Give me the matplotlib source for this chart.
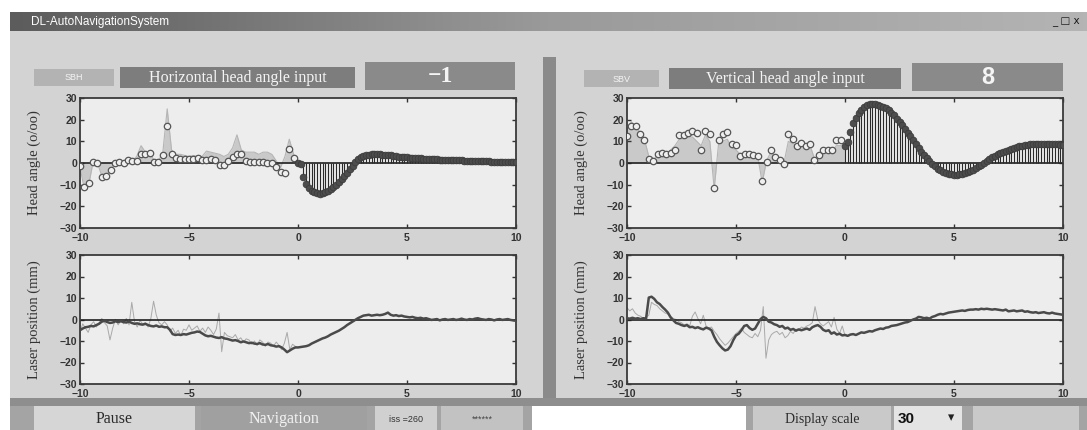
import numpy as np
import matplotlib.pyplot as plt
from matplotlib.patches import Rectangle
from matplotlib.colors import LinearSegmentedColormap

W, H = 1087, 430

# ---- data -------------------------------------------------------------
# sample times (s): open circles every 0.2 before zero, dense samples after
t_open = np.arange(-10, 0, 0.2)
t_dense = np.linspace(0, 10, 81)
t_laser = np.linspace(-10, 10, 161)
t_laser_raw = np.linspace(-10, 0, 81)

# horizontal head angle (o/oo)
h_open = [-1.3, -11, -9.4, 0.3, 0, -6.4, -6, -3, 0, 0.6,
          0, 1.4, 1, 0.8, 4.2, 4, 4.4, 0.3, 0.3, 3.8,
          17, 4.2, 2.3, 2, 2, 2, 2, 2.2, 1.6, 1.6,
          1.7, 1.6, -1, -1, 1.1, 2.7, 4.2, 4, 0.8, 0.3,
          0.3, 0.5, 0.6, 0.2, 0.2, -2, -4, -4.7, 6.6, 2.3]
h_raw = [-2, -12, -10, 0.5, 0, -6, -6, -3, 0, 1,
         1, 2, 1, 3, 8, 5, 5, 1, 1, 5,
         25, 6, 4, 4, 3.5, 3, 3.5, 3, 3, 5.5,
         5, 4.5, 4, 3, 4, 7, 13, 6, 5, 5,
         5, 4, 5, 5, 4, 1, -2, 3, 11, 4]
h_dense = [0.0, -0.5, -6.5, -9.5, -11.5, -12.8, -13.5, -14.0,
           -14.2, -14.0, -13.5, -12.8, -12.0, -11.0, -10.0, -8.8,
           -7.5, -6.0, -4.5, -2.8, -1.2, 0.5, 2.0, 2.9,
           3.4, 3.7, 3.9, 4.0, 4.0, 4.0, 4.0, 3.9,
           3.9, 3.8, 3.6, 3.4, 3.2, 3.0, 2.9, 2.7,
           2.6, 2.5, 2.4, 2.3, 2.2, 2.1, 2.0, 2.0,
           1.9, 1.9, 1.8, 1.7, 1.6, 1.6, 1.5, 1.5,
           1.4, 1.3, 1.3, 1.2, 1.2, 1.1, 1.1, 1.0,
           1.0, 0.9, 0.9, 0.8, 0.8, 0.7, 0.7, 0.6,
           0.6, 0.5, 0.5, 0.5, 0.4, 0.4, 0.4, 0.3,
           0.3]

# vertical head angle (o/oo)
v_open = [12.3, 17.2, 17.2, 13.5, 10.5, 2, 0.8, 4.3, 4.6, 4.2,
          4.6, 6, 12.8, 12.8, 13.8, 15, 14, 6.2, 15, 13.4,
          -11.5, 10.8, 13.4, 14.3, 8.8, 8.5, 3.4, 4.2, 4.2, 3.8,
          3.4, -8.5, 0.3, 5.8, 2.6, 1.5, -0.5, 13.5, 11.2, 7.7,
          9.2, 8, 8.8, 1.5, 3.5, 6.2, 6.2, 6.2, 10.8, 10.8]
v_raw = [15, 19, 17, 14, 11, 3, 1, 4, 5, 4,
         6, 8, 11, 11, 12, 12, 10, 8, 13, 10,
         -12, 9, 10, 11, 7, 6, 4, 4, 4, 3,
         3, -9, 1, 5, 3, 2, 0, 10, 9, 8,
         9, 8, 8, 2, 3, 5, 5, 5, 8, 8]
v_dense = [8.0, 9.5, 14.5, 18.5, 21.0, 23.0, 24.5, 26.0,
           26.8, 27.2, 27.3, 27.2, 27.0, 26.5, 26.0, 25.2,
           24.3, 23.2, 22.0, 20.5, 19.0, 17.5, 15.8, 14.0,
           12.3, 10.5, 8.8, 7.0, 5.3, 3.7, 2.2, 0.8,
           -0.5, -1.6, -2.6, -3.4, -4.1, -4.6, -5.0, -5.3,
           -5.4, -5.4, -5.3, -5.0, -4.6, -4.2, -3.6, -3.0,
           -2.3, -1.6, -0.8, 0.0, 0.9, 1.8, 2.6, 3.3,
           4.0, 4.6, 5.2, 5.7, 6.2, 6.6, 7.0, 7.4,
           7.7, 8.0, 8.3, 8.5, 8.7, 8.8, 8.9, 9.0,
           9.0, 9.0, 9.0, 9.0, 8.9, 8.8, 8.6, 8.5,
           8.3]

# laser position (mm), horizontal side
lh_line = [-5.0, -4.2, -3.6, -3.4, -3.0, -3.2, -2.6, -2.0,
           -1.0, -0.6, -1.2, -1.6, -1.4, -0.8, -1.2, -0.8,
           -1.2, -1.4, -1.0, -1.6, -2.0, -1.8, -2.2, -2.4,
           -2.0, -2.6, -3.0, -3.2, -2.8, -3.4, -3.2, -3.6,
           -3.6, -4.8, -6.8, -7.2, -7.0, -7.2, -6.8, -7.0,
           -6.6, -6.2, -6.0, -5.6, -5.8, -6.6, -7.4, -7.8,
           -7.6, -8.0, -8.4, -8.6, -8.2, -8.8, -9.0, -9.4,
           -9.8, -9.6, -10.0, -10.6, -10.2, -10.6, -11.0, -10.8,
           -11.2, -11.4, -11.0, -11.6, -11.8, -11.4, -12.0, -12.2,
           -12.6, -12.4, -13.0, -14.0, -15.2, -14.4, -13.6, -13.0,
           -13.0, -12.8, -12.6, -12.4, -12.0, -11.2, -10.6, -10.0,
           -9.4, -8.8, -8.4, -7.8, -7.0, -6.4, -5.8, -5.2,
           -4.4, -3.6, -2.6, -1.8, -1.0, -0.2, 0.6, 1.2,
           1.8, 2.0, 2.2, 1.8, 2.0, 2.2, 2.0, 2.2,
           2.6, 3.2, 2.2, 1.8, 2.0, 1.6, 1.8, 1.4,
           1.2, 1.0, 1.2, 0.8, 0.6, 0.8, 0.4, 0.6,
           0.2, -0.2, 0.0, 0.2, -0.4, 0.0, 0.2, -0.2,
           0.0, 0.2, -0.2, 0.0, 0.4, 0.0, -0.2, 0.2,
           0.0, 0.4, 0.6, 0.2, 0.0, -0.2, 0.2, 0.0,
           -0.4, 0.0, 0.2, -0.2, 0.0, 0.2, -0.2, -0.4,
           -0.6]
lh_raw = [-6.0, -2.0, -4.0, -6.0, -2.5, -1.0, -3.5, -1.5,
          0.5, -1.5, -3.0, -9.5, -4.0, 0.0, -2.5, -0.5,
          -2.0, 0.5, -2.5, 8.0, -1.0, -3.5, -0.5, -2.0,
          -1.5, -3.5, 0.5, 8.5, 2.0, -1.5, -2.5, -1.0,
          -2.5, -5.5, -4.0, -6.5, -5.0, -7.5, -4.5, -5.0,
          -2.5, -5.0, -4.0, -3.0, -5.5, -4.0, -6.0, -3.5,
          -5.0, -7.0, -4.5, 3.0, -15.0, -6.0, -7.5, -8.0,
          -8.5, -7.0, -9.5, -8.5, -10.5, -9.0, -9.5, -11.5,
          -10.0, -12.0, -9.5, -10.5, -12.5, -10.5, -11.0, -12.5,
          -10.5, -12.0, -14.0, -11.0, -6.0, -14.0, -11.5, -12.5,
          -13.0]

# laser position (mm), vertical side
lv_line = [0.6, 0.4, 0.8, 0.4, 0.6, 0.2, 0.6, 0.4,
           10.2, 10.6, 9.6, 8.0, 7.2, 5.8, 4.6, 3.2,
           1.0, -0.4, -1.6, -2.0, -2.6, -3.0, -2.6, -3.6,
           -3.4, -4.0, -3.6, -4.2, -4.6, -3.8, -4.2, -5.0,
           -8.0, -10.4, -12.0, -13.4, -14.4, -14.0, -12.4, -9.6,
           -7.4, -6.6, -5.0, -3.0, -2.6, -4.0, -4.8, -4.2,
           -2.0, 0.2, 1.2, 0.6, -1.0, -1.4, -2.2, -2.6,
           -3.4, -3.0, -4.2, -3.8, -4.8, -4.4, -5.2, -4.6,
           -5.0, -4.6, -4.2, -4.8, -3.6, -3.0, -2.6, -3.4,
           -4.8, -5.4, -5.0, -6.6, -6.0, -7.0, -6.6, -7.4,
           -7.2, -7.6, -7.0, -6.8, -7.2, -6.6, -6.0, -6.2,
           -5.8, -5.4, -5.6, -5.0, -4.6, -4.2, -4.4, -3.8,
           -3.6, -3.0, -2.8, -2.6, -2.2, -1.8, -1.4, -1.2,
           -0.6, 0.0, 0.4, 1.2, 1.0, 0.6, 0.8, 0.4,
           1.2, 1.6, 2.2, 2.6, 2.4, 2.8, 3.2, 3.4,
           3.6, 3.8, 4.0, 4.2, 4.0, 4.4, 4.6, 4.6,
           4.8, 4.6, 5.0, 4.8, 5.0, 4.8, 4.6, 4.8,
           4.6, 4.4, 4.2, 4.6, 3.8, 4.0, 4.2, 3.8,
           4.0, 4.2, 3.6, 3.8, 3.4, 3.2, 3.4, 3.0,
           3.2, 3.4, 3.0, 2.8, 3.2, 2.8, 2.6, 2.4,
           2.2]
lv_raw = [5.5, 4.0, 5.0, 3.0, 2.0, 1.5, 0.5, 1.0,
          2.0, 8.0, 7.0, 6.5, 5.0, 4.0, 3.0, 2.5,
          1.5, 0.5, 0.0, -1.0, -1.5, -2.5, -2.0, -3.0,
          1.5, 3.5, 0.5, -2.0, 2.0, -3.0, -4.0, -3.5,
          -5.5, -7.0, -9.0, -10.5, -12.0, -11.0, -9.5, -8.0,
          -6.5, -5.5, -4.0, -6.0, -7.0, -8.0, -8.5, -6.5,
          -8.0, -5.0, 6.0, -18.0, -9.5, -7.0, -6.0, -5.5,
          -7.0, -6.0, -8.5, -7.5, -5.5, -6.5, -4.5, -5.0,
          -3.5, -4.0, -3.0, -2.5, -1.5, 6.0, 0.0, -2.0,
          -3.0, -2.0, -1.0, -3.5, 1.0, -4.5, -6.5, -3.0,
          -7.5]

x_ticks = [-10, -5, 0, 5, 10]
y_ticks = [-30, -20, -10, 0, 10, 20, 30]

SERIF = ['Liberation Serif', 'DejaVu Serif']
SANS = ['Liberation Sans', 'DejaVu Sans']


def px_box(x0, y0, x1, y1):
    return [x0 / W, 1 - y1 / H, (x1 - x0) / W, (y1 - y0) / H]


def style_axes(ax, ylabel):
    ax.set_facecolor('#ededed')
    ax.set_xlim(-10, 10)
    ax.set_ylim(-30, 30)
    ax.set_xticks(x_ticks)
    ax.set_yticks(y_ticks)
    ax.tick_params(direction='in', top=True, right=True, length=3,
                   width=1, color='#333333', labelsize=7.5)
    ax.tick_params(axis='x', pad=3.5)
    ax.tick_params(axis='y', pad=2)
    for lab in ax.get_xticklabels() + ax.get_yticklabels():
        lab.set_fontweight('bold')
        lab.set_family(SANS)
        lab.set_color('#333333')
    for sp in ax.spines.values():
        sp.set_color('#3a3a3a')
        sp.set_linewidth(1.3)
    ax.set_ylabel(ylabel, family=SERIF, fontsize=10.5, color='#333333')
    ax.yaxis.set_label_coords(-0.09, 0.5)
    ax.axhline(0, color='#202020', lw=1.2, zorder=2)


def angle_panel(ax, opn, raw, dense):
    tx = np.append(t_open, 0)
    rx = np.append(raw, dense[0])
    ax.fill_between(tx, 0, rx, color='#c9c9c9', lw=0, zorder=1)
    ax.plot(tx, rx, color='#b5b5b5', lw=0.8, zorder=1)
    ax.vlines(t_dense, 0, dense, color='#2a2a2a', lw=0.8, zorder=3)
    ax.plot(t_open, opn, 'o', mfc='#efefef', mec='#555555', ms=4.6,
            mew=0.9, zorder=4)
    ax.plot(t_dense, dense, 'o', mfc='#4d4d4d', mec='#3c3c3c', ms=4.8,
            mew=0.6, zorder=4)
    style_axes(ax, 'Head angle (o/oo)')


def laser_panel(ax, line, raw):
    ax.plot(t_laser_raw, raw, color='#a9a9a9', lw=0.7, zorder=1)
    ax.plot(t_laser, line, color='#4a4a4a', lw=1.8, zorder=3)
    style_axes(ax, 'Laser position (mm)')


fig = plt.figure(figsize=(W / 100, H / 100), dpi=100)
fig.patch.set_facecolor('white')

# window chrome drawn on a background axes in pixel coordinates
bg = fig.add_axes([0, 0, 1, 1], zorder=0)
bg.axis('off')
bg.add_patch(Rectangle((10, 31), W - 10, 370, color='#d3d3d3', lw=0))
title_cmap = LinearSegmentedColormap.from_list('tb', ['#5c5c5c', '#9a9a9a', '#b4b4b4'])
bg.imshow(np.linspace(0, 1, 256)[None, :], extent=(10, W, 31, 12),
          cmap=title_cmap, aspect='auto')
bg.text(31, 22, 'DL-AutoNavigationSystem', color='white', fontsize=8.5,
        family=SANS, va='center', ha='left')
bg.text(1066, 22, '_ □ x', color='#1a1a1a', fontsize=7.5, family='DejaVu Sans',
        va='center', ha='center')

# divider
bg.add_patch(Rectangle((543, 57), 13, 344, color='#8a8a8a', lw=0))

# header labels
headers = [
    ((34, 69, 114, 86), '#b3b3b3', 'SBH', 6.5, 'normal', SANS),
    ((120, 67, 355, 88), '#7d7d7d', 'Horizontal head angle input', 11.5, 'normal', SERIF),
    ((365, 62, 515, 90), '#8a8a8a', '−1', 17, 'bold', SERIF),
    ((584, 70, 659, 87), '#b3b3b3', 'SBV', 6.5, 'normal', SANS),
    ((669, 68, 901, 89), '#7d7d7d', 'Vertical head angle input', 11.5, 'normal', SERIF),
    ((912, 63, 1063, 91), '#8a8a8a', '8', 17, 'bold', SANS),
]
for (x0, y0, x1, y1), col, txt, fs, fw, fam in headers:
    bg.add_patch(Rectangle((x0, y0), x1 - x0, y1 - y0, color=col, lw=0))
    bg.text((x0 + x1) / 2, (y0 + y1) / 2 + 0.5, txt, color='#f4f4f4', fontsize=fs,
            fontweight=fw, family=fam, ha='center', va='center')

# bottom button row
bg.add_patch(Rectangle((10, 398), W - 10, 8, color='#8e8e8e', lw=0))
bg.add_patch(Rectangle((10, 406), W - 10, 24, color='#a4a4a4', lw=0))
buttons = [
    ((34, 406, 195, 430), '#d6d6d6', 'Pause', '#2a2a2a', 11.5, SERIF),
    ((201, 406, 367, 430), '#a0a0a0', 'Navigation', '#f2f2f2', 11.5, SERIF),
    ((375, 406, 437, 430), '#d0d0d0', 'iss =260', '#333333', 6.5, SANS),
    ((441, 406, 523, 430), '#c2c2c2', '******', '#444444', 6.5, SANS),
    ((532, 406, 746, 430), '#ffffff', '', '#000000', 8, SANS),
    ((753, 406, 891, 430), '#c9c9c9', 'Display scale', '#2a2a2a', 10, SERIF),
    ((973, 406, 1079, 430), '#c9c9c9', '', '#000000', 8, SANS),
]
for (x0, y0, x1, y1), col, txt, tcol, fs, fam in buttons:
    bg.add_patch(Rectangle((x0, y0), x1 - x0, y1 - y0, color=col, lw=0))
    if txt:
        bg.text((x0 + x1) / 2, (y0 + y1) / 2 + 1, txt, color=tcol, fontsize=fs,
                family=fam, ha='center', va='center')
bg.add_patch(Rectangle((894, 406), 68, 24, color='#e4e4e4', lw=0))
bg.text(898, 419, '30', color='#111111', fontsize=11, fontweight='bold',
        family=SANS, ha='left', va='center')
bg.text(951, 418, '▾', color='#222222', fontsize=9, family='DejaVu Sans',
        ha='center', va='center')

bg.set_xlim(0, W)
bg.set_ylim(H, 0)

# chart panels
ax_ht = fig.add_axes(px_box(80, 98, 516, 228), zorder=2)
ax_hl = fig.add_axes(px_box(80, 255, 516, 384), zorder=2)
ax_vt = fig.add_axes(px_box(627, 98, 1063, 228), zorder=2)
ax_vl = fig.add_axes(px_box(627, 255, 1063, 384), zorder=2)

angle_panel(ax_ht, h_open, h_raw, h_dense)
angle_panel(ax_vt, v_open, v_raw, v_dense)
laser_panel(ax_hl, lh_line, lh_raw)
laser_panel(ax_vl, lv_line, lv_raw)

fig.savefig('out.png', dpi=100)
